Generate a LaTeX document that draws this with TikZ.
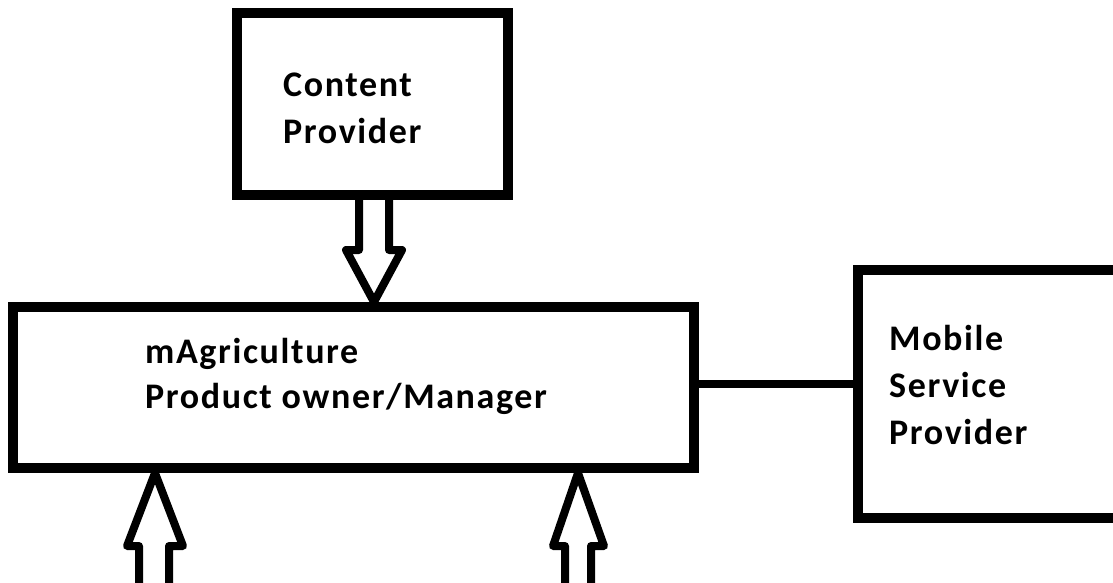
\documentclass[tikz,border=0pt]{standalone}
\usepackage{fontspec}
\setmainfont{Carlito}[LetterSpace=4.5]
\begin{document}
\begin{tikzpicture}[x=1pt,y=-1pt,
  box/.style={draw=black, line width=10pt, inner sep=0pt},
  lbl/.style={anchor=base west, inner sep=0pt, font=\bfseries\fontsize{36}{43}\selectfont},
  barrow/.style={draw=black, fill=white, line width=8pt, line join=round},
  conn/.style={draw=black, line width=8pt}]
\useasboundingbox[fill=white] (0,0) rectangle (1113,583);
% boxes
\node[box, minimum width=271pt, minimum height=182pt] (content) at (372.5,104) {};
\node[box, minimum width=681pt, minimum height=161pt] (main) at (353.5,387.5) {};
\node[box, minimum width=267pt, minimum height=248pt] (mobile) at (991.5,394) {};
% texts
\node[lbl] (c1) at (283,97) {Content};
\node[lbl] (c2) at (283,143) {Provider};
\node[lbl] (m1) at (145,363) {mAgriculture};
\node[lbl] (m2) at (145,408) {Product owner/Manager};
\node[lbl] (s1) at (889,350) {Mobile};
\node[lbl] (s2) at (889,397) {Service};
\node[lbl] (s3) at (889,444) {Provider};
% connector main -- mobile
\coordinate (cy) at (0,384);
\draw[conn] (main.east |- cy) -- (mobile.west |- cy);
% down block arrow content -> main
\draw[barrow] (content.south -| 359,0) -- (359,250) -- (346,250) -- (main.north -| 374,0)
  -- (402,250) -- (389,250) -- (content.south -| 389,0);
% up block arrows into main
\coordinate (bl) at (0,600);
\draw[barrow] (bl -| 139,0) -- (139,546) -- (127,546) -- (main.south -| 155,0)
  -- (183,546) -- (169,546) -- (bl -| 169,0);
\draw[barrow] (bl -| 565,0) -- (565,546) -- (553,546) -- (main.south -| 578,0)
  -- (604,546) -- (591,546) -- (bl -| 591,0);
\end{tikzpicture}
\end{document}
